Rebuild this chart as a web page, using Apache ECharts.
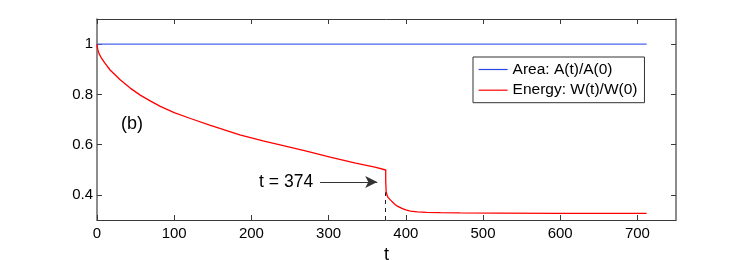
<!DOCTYPE html>
<html>
<head>
<meta charset="utf-8">
<script src="https://cdn.jsdelivr.net/npm/echarts@6/dist/echarts.min.js"></script>
<style>
html,body{margin:0;padding:0;background:#fff;}
#c{width:747px;height:260px;}
</style>
</head>
<body>
<div id="c"></div>
<script>
// ---- data ----
const areaT = [0, 712];
const areaVal = [1, 1];

const energyT = [0, 1, 3, 6, 10, 17, 30, 43, 56, 70, 82, 100, 121, 146, 185, 215, 244, 270, 302, 335, 360, 374,
                 374, 374.5, 375.5, 377, 380, 385, 389, 395, 400, 406, 415, 427, 445, 470, 520, 600, 712];
const energyVal = [1.0, 0.978, 0.96, 0.943, 0.925, 0.897, 0.858, 0.825, 0.797, 0.772, 0.752, 0.727, 0.704, 0.678, 0.639, 0.615, 0.594, 0.575, 0.550, 0.526, 0.510, 0.499,
                   0.455, 0.415, 0.400, 0.390, 0.380, 0.365, 0.355, 0.346, 0.340, 0.335, 0.332, 0.330, 0.329, 0.328, 0.327, 0.326, 0.326];

const xTicks = [0, 100, 200, 300, 400, 500, 600, 700];
const yTicks = [0.4, 0.6, 0.8, 1];

const dropTime = 374;
const dropBottom = 0.41;
const arrowStartT = 289;
const arrowEndT = 363;
const arrowLevel = 0.451;

const seriesNames = ['Area: A(t)/A(0)', 'Energy: W(t)/W(0)'];
const panelLabel = '(b)';
const xName = 't';

// ---- chart ----
const zip = (a, b) => a.map((v, i) => [v, b[i]]);
const FONT = '"Liberation Sans", Arial, Helvetica, sans-serif';
const axisCol = '#3a3a3a';

const chart = echarts.init(document.getElementById('c'), null, {renderer: 'canvas'});

const option = {
  animation: false,
  backgroundColor: '#fff',
  textStyle: {fontFamily: FONT},
  grid: {left: 97, right: 71, top: 19, bottom: 40, containLabel: false, outerBoundsMode: 'none'},
  xAxis: [{
    type: 'value', min: 0, max: 750, interval: 100, position: 'bottom',
    name: xName, nameLocation: 'middle', nameGap: 16,
    nameTextStyle: {fontSize: 18, color: '#000', fontFamily: FONT},
    axisLine: {show: true, onZero: false, lineStyle: {color: axisCol, width: 1}},
    axisTick: {show: true, inside: true, length: 5, lineStyle: {color: axisCol}, customValues: xTicks},
    axisLabel: {show: true, margin: 6, fontSize: 15, color: '#000', fontFamily: FONT,
      customValues: xTicks},
    splitLine: {show: false}
  }, {
    type: 'value', min: 0, max: 750, interval: 100, position: 'top',
    axisLine: {show: true, onZero: false, lineStyle: {color: axisCol, width: 1}},
    axisTick: {show: true, inside: true, length: 5, lineStyle: {color: axisCol}, customValues: xTicks},
    axisLabel: {show: false},
    splitLine: {show: false}
  }],
  yAxis: [{
    type: 'value', min: 0.3, max: 1.1, position: 'left',
    axisLine: {show: true, onZero: false, lineStyle: {color: '#666', width: 1.5}},
    axisTick: {show: true, inside: true, length: 5, lineStyle: {color: axisCol}, customValues: yTicks},
    axisLabel: {show: true, margin: 4, fontSize: 15, color: '#000', fontFamily: FONT, customValues: yTicks},
    splitLine: {show: false}
  }, {
    type: 'value', min: 0.3, max: 1.1, position: 'right',
    axisLine: {show: true, onZero: false, lineStyle: {color: '#666', width: 1.5}},
    axisTick: {show: true, inside: true, length: 5, lineStyle: {color: axisCol}, customValues: yTicks},
    axisLabel: {show: false},
    splitLine: {show: false}
  }],
  legend: {
    show: true, orient: 'vertical', left: 473, top: 57,
    padding: [4.5, 7, 4.5, 5], itemGap: 4.7, itemWidth: 29, itemHeight: 16,
    backgroundColor: '#fff', borderColor: '#333', borderWidth: 1,
    textStyle: {fontSize: 15.5, color: '#000', fontFamily: FONT, lineHeight: 16},
    itemStyle: {opacity: 0},
    data: [
      {name: seriesNames[0], lineStyle: {color: '#2a45e6', width: 1.2}, itemStyle: {opacity: 0}},
      {name: seriesNames[1], lineStyle: {color: '#ff0000', width: 1.2}, itemStyle: {opacity: 0}}
    ]
  },
  graphic: [{
    type: 'text', left: 121, top: 115,
    style: {text: panelLabel, fontSize: 18, fill: '#000', fontFamily: FONT}
  }],
  series: [{
    name: seriesNames[0], type: 'line', xAxisIndex: 0, yAxisIndex: 0,
    data: zip(areaT, areaVal), symbol: 'none', showSymbol: false,
    lineStyle: {color: '#4a66ee', width: 1.4}, itemStyle: {color: '#2a45e6'}, z: 3
  }, {
    name: seriesNames[1], type: 'line', xAxisIndex: 0, yAxisIndex: 0,
    data: zip(energyT, energyVal), symbol: 'none', showSymbol: false, smooth: false,
    lineStyle: {color: '#ff0000', width: 1.3}, itemStyle: {color: '#ff0000'}, z: 4,
    markLine: {
      silent: true, animation: false,
      data: [
        [{coord: [dropTime, 0.3], symbol: 'none', lineStyle: {color: '#222', type: [4, 4], width: 1}, label: {show: false}},
         {coord: [dropTime, dropBottom], symbol: 'none'}],
        [{coord: [arrowStartT, arrowLevel], symbol: 'none',
          lineStyle: {color: '#333', type: 'solid', width: 1},
          label: {show: true, position: 'start', formatter: 't = ' + dropTime, fontSize: 17.5, color: '#000', fontFamily: FONT, distance: 7}},
         {coord: [arrowEndT, arrowLevel], symbol: 'arrow', symbolSize: [9, 12]}]
      ]
    }
  }]
};
chart.setOption(option);
</script>
</body>
</html>
